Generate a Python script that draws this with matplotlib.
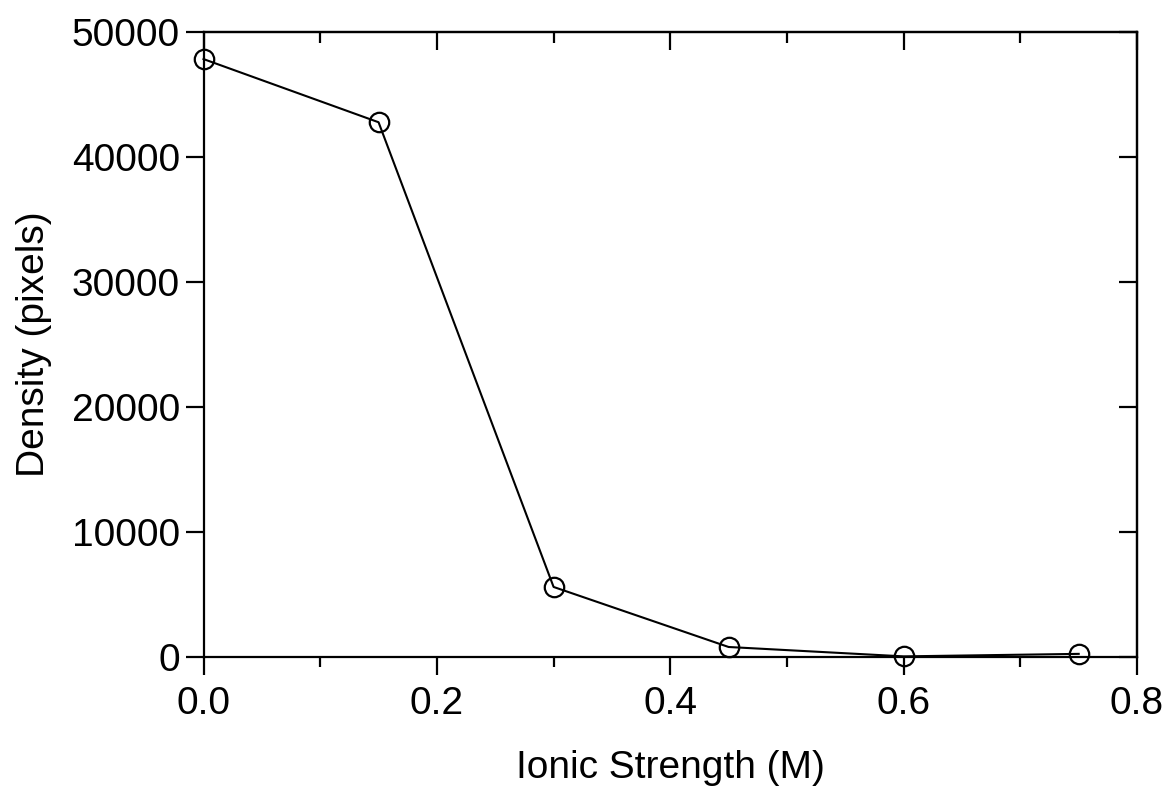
import matplotlib
matplotlib.use("Agg")
import matplotlib.pyplot as plt
from matplotlib.ticker import MultipleLocator, FormatStrFormatter

# data
ionic_strength = [0.0, 0.15, 0.30, 0.45, 0.60, 0.75]
density = [47800, 42750, 5600, 800, 50, 250]

x_ticks = [0.0, 0.2, 0.4, 0.6, 0.8]
y_ticks = [0, 10000, 20000, 30000, 40000, 50000]

plt.rcParams['font.family'] = ['Liberation Sans', 'DejaVu Sans']

fig = plt.figure(figsize=(11.65, 7.89), dpi=100)
ax = fig.add_axes([0.1747, 0.1673, 0.976 - 0.1747, 0.960 - 0.1673])

ax.plot(ionic_strength, density, color='black', linewidth=1.5,
        marker='o', markersize=14, markerfacecolor='none',
        markeredgecolor='black', markeredgewidth=1.6, clip_on=False, zorder=3)

ax.set_xlim(0, 0.8)
ax.set_ylim(0, 50000)
ax.set_xticks(x_ticks)
ax.set_yticks(y_ticks)
ax.xaxis.set_minor_locator(MultipleLocator(0.1))
ax.xaxis.set_major_formatter(FormatStrFormatter('%.1f'))

for sp in ax.spines.values():
    sp.set_linewidth(1.6)

ax.tick_params(axis='both', which='major', direction='out', length=13, width=1.6,
               labelsize=28, pad=4)
ax.tick_params(axis='x', which='minor', direction='out', length=7, width=1.6)
ax.tick_params(axis='x', which='major', pad=8)

# mirrored ticks pointing inward on top and right
top = ax.secondary_xaxis('top')
top.set_xticks(x_ticks)
top.xaxis.set_minor_locator(MultipleLocator(0.1))
top.tick_params(which='major', direction='in', length=13, width=1.6, labeltop=False)
top.tick_params(which='minor', direction='in', length=8, width=1.6)
top.spines['top'].set_linewidth(1.6)

right = ax.secondary_yaxis('right')
right.set_yticks(y_ticks)
right.tick_params(which='major', direction='in', length=13, width=1.6, labelright=False)
right.spines['right'].set_linewidth(1.6)

ax.set_xlabel('Ionic Strength (M)', fontsize=28, labelpad=20)
ax.set_ylabel('Density (pixels)', fontsize=28, labelpad=14)

fig.savefig('out.png', dpi=100)
